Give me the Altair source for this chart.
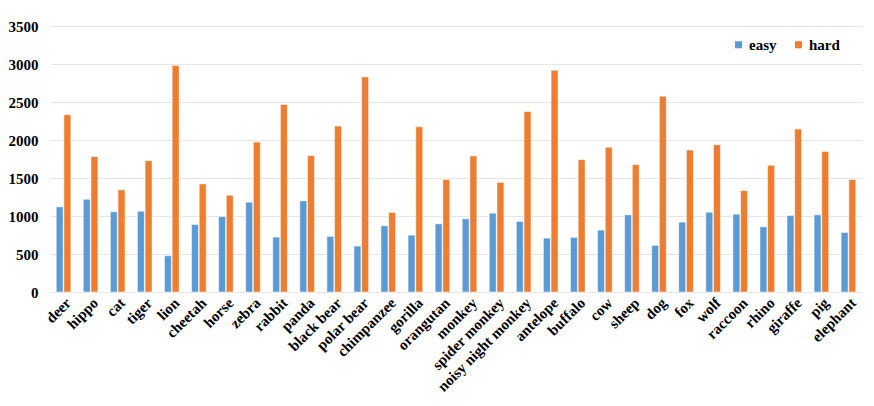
import altair as alt
import pandas as pd

animals = ["deer", "hippo", "cat", "tiger", "lion", "cheetah", "horse", "zebra", "rabbit",
           "panda", "black bear", "polar bear", "chimpanzee", "gorilla", "orangutan", "monkey",
           "spider monkey", "noisy night monkey", "antelope", "buffalo", "cow", "sheep", "dog",
           "fox", "wolf", "raccoon", "rhino", "giraffe", "pig", "elephant"]
easy = [1120, 1220, 1055, 1063, 477, 888, 993, 1181, 722,
        1199, 731, 604, 871, 748, 897, 963,
        1037, 928, 709, 718, 814, 1015, 613,
        919, 1050, 1024, 858, 1006, 1015, 783]
hard = [2332, 1781, 1344, 1728, 2979, 1422, 1273, 1973, 2467,
        1794, 2183, 2830, 1046, 2174, 1479, 1790,
        1443, 2375, 2918, 1741, 1903, 1675, 2577,
        1868, 1938, 1334, 1667, 2144, 1850, 1479]
series = ["easy", "hard"]
colors = ["#5B9BD5", "#ED7D31"]

rows = []
for i, a in enumerate(animals):
    rows.append({"animal": a, "level": "easy", "value": easy[i]})
    rows.append({"animal": a, "level": "hard", "value": hard[i]})
df = pd.DataFrame(rows)

font = "Liberation Serif"

chart = alt.Chart(df).mark_bar(stroke="white", strokeWidth=0.6, strokeOpacity=0.8).encode(
    x=alt.X("animal:N", sort=animals, title=None,
            scale=alt.Scale(paddingInner=0.46, paddingOuter=0.23),
            axis=alt.Axis(labelAngle=-45, labelFont=font, labelFontWeight="bold",
                          labelFontSize=15, labelColor="black", ticks=False,
                          domain=False, labelPadding=3, labelLimit=300)),
    xOffset=alt.XOffset("level:N", sort=series, scale=alt.Scale(paddingInner=0.1)),
    y=alt.Y("value:Q", title=None,
            scale=alt.Scale(domain=[0, 3500], nice=False),
            axis=alt.Axis(values=[0, 500, 1000, 1500, 2000, 2500, 3000, 3500],
                          format="d",
                          labelFont=font, labelFontWeight="bold", labelFontSize=15,
                          labelColor="black", ticks=False, domain=False, labelPadding=12,
                          gridColor="#e6e6e6", gridWidth=1)),
    color=alt.Color("level:N", sort=series,
                    scale=alt.Scale(domain=series, range=colors),
                    legend=alt.Legend(title=None, orient="none", legendX=681, legendY=11,
                                      direction="horizontal", symbolType="square",
                                      symbolSize=50, symbolStrokeWidth=0,
                                      labelFont=font, labelFontWeight="bold",
                                      labelFontSize=15, labelColor="black",
                                      columnPadding=14, labelOffset=3)),
).properties(
    width=812, height=266,
    padding={"top": 11, "left": 0, "right": 0, "bottom": 0}
).configure_view(stroke=None)

chart.save("out.html", embed_options={"renderer": "svg", "actions": False})
